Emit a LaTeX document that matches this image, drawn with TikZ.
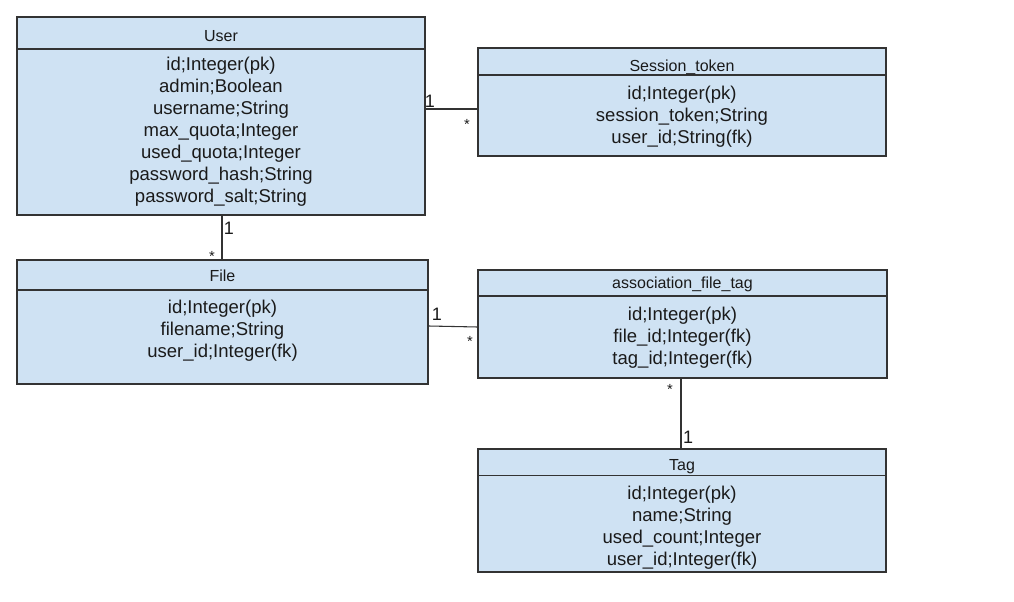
\documentclass[tikz,border=0pt]{standalone}
\usepackage{fontspec}
\setmainfont{Liberation Sans}
\definecolor{boxfill}{HTML}{CFE2F3}
\definecolor{boxline}{HTML}{333333}
\definecolor{txt}{HTML}{1A1A1A}
\begin{document}
\begin{tikzpicture}[x=0.75pt,y=-0.75pt,
  entity/.style={draw=boxline,fill=boxfill,line width=0.8pt,rectangle,inner sep=0pt},
  title/.style={font=\fontsize{12}{14}\selectfont,text=txt,inner sep=0pt},
  attrs/.style={font=\fontsize{13.9}{16.5}\selectfont,text=txt,align=center,inner sep=0pt},
  mult/.style={font=\fontsize{13.5}{15}\selectfont,text=txt,inner sep=0pt},
  star/.style={font=\fontsize{11}{12}\selectfont,text=txt,inner sep=0pt},
  link/.style={draw=boxline,line width=0.8pt},
  hline/.style={draw=boxline,line width=0.8pt}]
\useasboundingbox[fill=white] (0,0) rectangle (1014,602);

% boxes
\node[entity,minimum width=306pt,minimum height=148.5pt] (user) at (221,116) {};
\node[entity,minimum width=306pt,minimum height=81pt] (sess) at (682,102) {};
\node[entity,minimum width=308.25pt,minimum height=93pt] (file) at (222.5,322) {};
\node[entity,minimum width=306.75pt,minimum height=81pt] (assoc) at (682.5,324) {};
\node[entity,minimum width=306pt,minimum height=92.25pt] (tag) at (682,510.5) {};

% header separators
\coordinate (uh) at (0,49);
\coordinate (sh) at (0,75);
\coordinate (fh) at (0,290);
\coordinate (ah) at (0,296);
\coordinate (th) at (0,475.5);
\draw[hline] (user.west |- uh) -- (user.east |- uh);
\draw[hline] (sess.west |- sh) -- (sess.east |- sh);
\draw[hline] (file.west |- fh) -- (file.east |- fh);
\draw[hline] (assoc.west |- ah) -- (assoc.east |- ah);
\draw[hline] (tag.west |- th) -- (tag.east |- th);

% titles
\node[title] (userT) at (221,36) {User};
\node[title] (sessT) at (682,67) {Session\_token};
\node[title] (fileT) at (222.5,276) {File};
\node[title] (assocT) at (682.5,284) {association\_file\_tag};
\node[title] (tagT) at (682,467) {Tag};

% attributes
\node[attrs] (userA) at (221,131.5) {id;Integer(pk)\\admin;Boolean\\username;String\\max\_quota;Integer\\used\_quota;Integer\\password\_hash;String\\password\_salt;String};
\node[attrs] (sessA) at (682,117) {id;Integer(pk)\\session\_token;String\\user\_id;String(fk)};
\node[attrs] (fileA) at (222.5,331) {id;Integer(pk)\\filename;String\\user\_id;Integer(fk)};
\node[attrs] (assocA) at (682.5,338) {id;Integer(pk)\\file\_id;Integer(fk)\\tag\_id;Integer(fk)};
\node[attrs] (tagA) at (682,527.5) {id;Integer(pk)\\name;String\\used\_count;Integer\\user\_id;Integer(fk)};

% connectors
\coordinate (us) at (0,109);
\draw[link] (user.east |- us) -- (sess.west |- us);
\coordinate (uf) at (222,0);
\draw[link] (user.south -| uf) -- (file.north -| uf);
\coordinate (fa1) at (0,326);
\coordinate (fa2) at (0,327);
\draw[link] (file.east |- fa1) -- (assoc.west |- fa2);
\coordinate (at) at (681,0);
\draw[link] (assoc.south -| at) -- (tag.north -| at);

% multiplicities
\node[mult] (m1) at (430,101) {1};
\node[star] (s1) at (467,124) {*};
\node[mult] (m2) at (229,228) {1};
\node[star] (s2) at (212,256) {*};
\node[mult] (m3) at (437,314) {1};
\node[star] (s3) at (470,341) {*};
\node[star] (s4) at (670,389) {*};
\node[mult] (m4) at (688,437) {1};
\end{tikzpicture}
\end{document}
